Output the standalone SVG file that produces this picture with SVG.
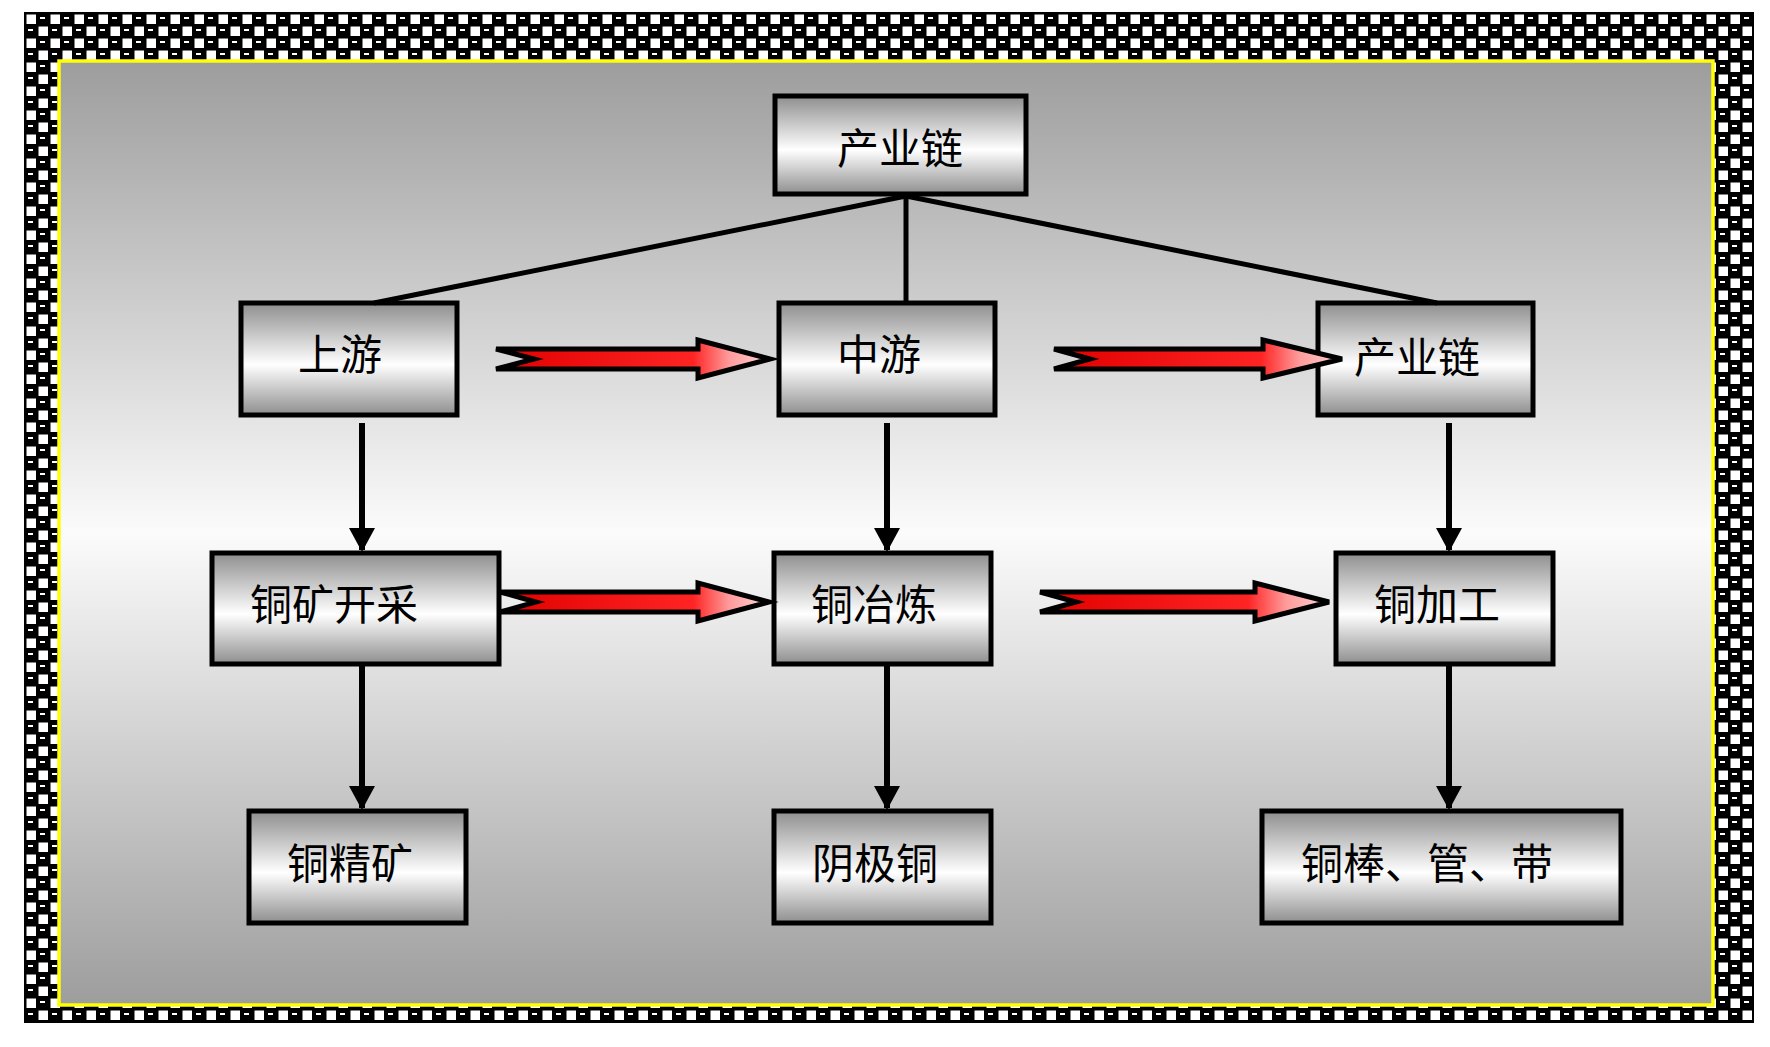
<svg xmlns="http://www.w3.org/2000/svg" width="1770" height="1047" viewBox="0 0 1770 1047">
<style>
.node rect{stroke:#000;stroke-width:5;fill:url(#nodeGrad)}
.node text{font-family:"Noto Sans CJK SC","Noto Sans",sans-serif;font-size:42px;fill:#000;text-anchor:middle}
.link{stroke:#000;stroke-width:5;fill:none}
.down{stroke:#000;stroke-width:6;fill:none;marker-end:url(#head)}
.big{fill:url(#redGrad);stroke:#000;stroke-width:5;stroke-linejoin:miter}
</style>
<defs>
<pattern id="chk" x="25" y="13" width="24" height="24" patternUnits="userSpaceOnUse">
<rect width="24" height="24" fill="#000"/>
<rect x="1.5" y="1.5" width="9.5" height="9.5" fill="#fff"/>
<rect x="13.5" y="13.5" width="9.5" height="9.5" fill="#fff"/>
<rect x="15" y="4" width="5" height="2" fill="#fff"/>
<rect x="3" y="16" width="5" height="2" fill="#fff"/>
</pattern>
<linearGradient id="bgGrad" x1="0" y1="0" x2="0" y2="1">
<stop offset="0" stop-color="#9d9d9d"/>
<stop offset="0.5" stop-color="#fbfbfb"/>
<stop offset="1" stop-color="#9d9d9d"/>
</linearGradient>
<linearGradient id="nodeGrad" x1="0" y1="0" x2="0" y2="1">
<stop offset="0" stop-color="#8e8e8e"/>
<stop offset="0.55" stop-color="#ffffff"/>
<stop offset="1" stop-color="#8e8e8e"/>
</linearGradient>
<linearGradient id="redGrad" x1="0" y1="0" x2="1" y2="0">
<stop offset="0" stop-color="#e00000"/>
<stop offset="0.72" stop-color="#ff2424"/>
<stop offset="0.85" stop-color="#ff9a9a"/>
<stop offset="1" stop-color="#ffd6d6"/>
</linearGradient>
<marker id="head" markerUnits="userSpaceOnUse" markerWidth="26" markerHeight="26" refX="22" refY="13" orient="auto">
<path d="M0,0 L24,13 L0,26 Z" fill="#000"/>
</marker>
</defs>

<g id="frame">
<rect x="25" y="13" width="1728" height="1009" fill="url(#chk)" stroke="#000" stroke-width="2"/>
<rect x="59" y="61" width="1654" height="944" fill="url(#bgGrad)" stroke="#ffff00" stroke-width="3.5"/>
</g>

<g id="n-top" class="node"><rect x="775" y="96" width="251" height="98"/><text x="900" y="164">产业链</text></g>
<g id="n-up" class="node"><rect x="241" y="303" width="216" height="112"/><text x="340" y="370">上游</text></g>
<g id="n-mid" class="node"><rect x="779" y="303" width="216" height="112"/><text x="879" y="370">中游</text></g>
<g id="n-down" class="node"><rect x="1318" y="303" width="215" height="112"/><text x="1417" y="373">产业链</text></g>
<g id="n-mining" class="node"><rect x="212" y="553" width="287" height="111"/><text x="334" y="620">铜矿开采</text></g>
<g id="n-smelt" class="node"><rect x="774" y="553" width="217" height="111"/><text x="874" y="620">铜冶炼</text></g>
<g id="n-proc" class="node"><rect x="1336" y="553" width="217" height="111"/><text x="1437" y="620">铜加工</text></g>
<g id="n-conc" class="node"><rect x="249" y="811" width="217" height="112"/><text x="350" y="879">铜精矿</text></g>
<g id="n-cath" class="node"><rect x="774" y="811" width="217" height="112"/><text x="875" y="879">阴极铜</text></g>
<g id="n-prod" class="node"><rect x="1262" y="811" width="359" height="112"/><text x="1427" y="879">铜棒、管、带</text></g>

<g id="connectors">
<line class="link" x1="906" y1="196" x2="374" y2="303"/>
<line class="link" x1="906" y1="196" x2="906" y2="303"/>
<line class="link" x1="906" y1="196" x2="1437" y2="303"/>
<line class="down" x1="362" y1="423" x2="362" y2="550"/>
<line class="down" x1="887" y1="423" x2="887" y2="550"/>
<line class="down" x1="1449" y1="423" x2="1449" y2="550"/>
<line class="down" x1="362" y1="664" x2="362" y2="808"/>
<line class="down" x1="887" y1="664" x2="887" y2="808"/>
<line class="down" x1="1449" y1="664" x2="1449" y2="808"/>
<polygon class="big" points="496,349 698,349 698,340 770,359 698,378 698,369 496,369 534,359"/>
<polygon class="big" points="1054,349 1263,349 1263,340 1342,359 1263,378 1263,369 1054,369 1090,359"/>
<polygon class="big" points="500,592 698,592 698,583 769,602 698,621 698,612 500,612 536,602"/>
<polygon class="big" points="1040,592 1255,592 1255,583 1329,602 1255,621 1255,612 1040,612 1076,602"/>
</g>
</svg>
